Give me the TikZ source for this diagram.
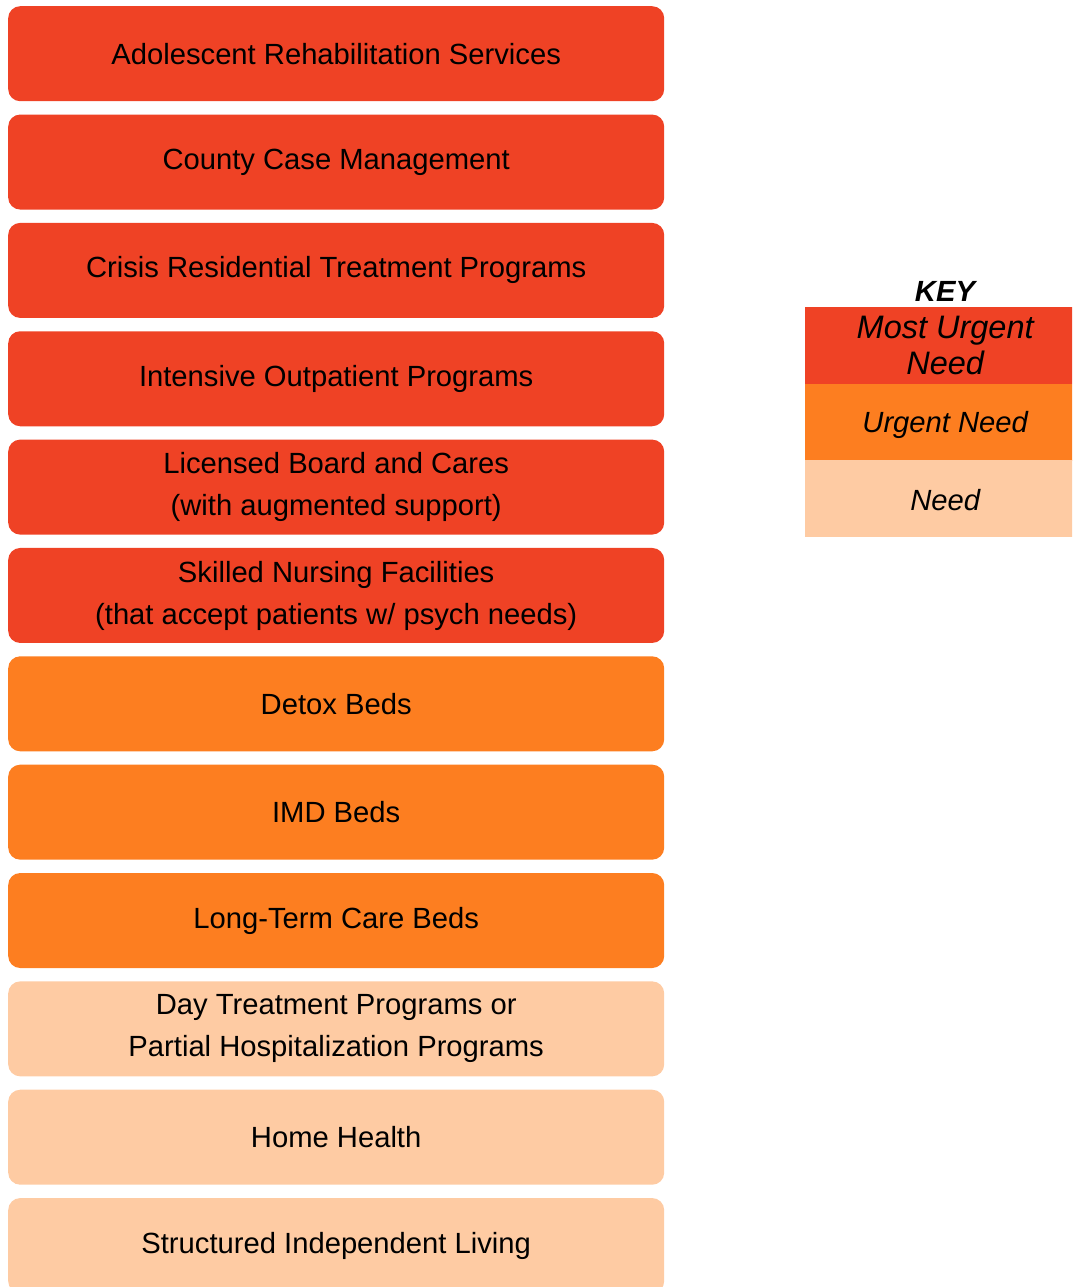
\documentclass[tikz,border=0pt]{standalone}
\usepackage{fontspec}
\setmainfont{Liberation Sans}
\definecolor{mostred}{HTML}{EF4225}
\definecolor{urgorange}{HTML}{FD7E20}
\definecolor{needpeach}{HTML}{FECBA3}
\begin{document}
\begin{tikzpicture}[x=1pt,y=-1pt,
  svc/.style={rounded corners=12pt,minimum width=656pt,minimum height=95pt,
    inner sep=0pt,anchor=north west,align=center,
    font=\fontsize{29.2}{42}\selectfont},
  keycell/.style={minimum width=280pt,minimum height=77pt,inner sep=0pt,
    anchor=north west,align=center,font=\fontsize{29.2}{36}\selectfont\itshape},
  keytext/.style={inner sep=0pt,font=\fontsize{29.2}{36}\selectfont\itshape}]
\useasboundingbox (0,0) rectangle (1072,1287);
\begin{scope}
\clip (0,0) rectangle (1072,1287);
\foreach \i/\col/\txt in {
  0/mostred/{Adolescent Rehabilitation Services},
  1/mostred/{County Case Management},
  2/mostred/{Crisis Residential Treatment Programs},
  3/mostred/{Intensive Outpatient Programs},
  4/mostred/{Licensed Board and Cares\\(with augmented support)},
  5/mostred/{Skilled Nursing Facilities\\(that accept patients w/ psych needs)},
  6/urgorange/{Detox Beds},
  7/urgorange/{IMD Beds},
  8/urgorange/{Long-Term Care Beds},
  9/needpeach/{Day Treatment Programs or\\Partial Hospitalization Programs},
  10/needpeach/{Home Health},
  11/needpeach/{Structured Independent Living}}
  \node[svc,fill=\col] (s\i) at (8,{6+108.35*\i}) {\txt};
% legend cells run past the right edge of the page
\node[keycell,fill=mostred,font=\fontsize{32.5}{36}\selectfont\itshape] (k1) at (805,307) {Most Urgent\\Need};
\node[keycell,fill=urgorange] (k2) at (805,384) {};
\node[keycell,fill=needpeach] (k3) at (805,460) {};
\end{scope}
\node[keytext] (k2t) at ([yshift=-2.5pt]k2.center) {Urgent Need};
\node[keytext] (k3t) at ([yshift=-1pt]k3.center) {Need};
\node[font=\fontsize{29.2}{32}\selectfont\bfseries\itshape] (keytitle) at (945,291) {KEY};
\end{tikzpicture}
\end{document}
